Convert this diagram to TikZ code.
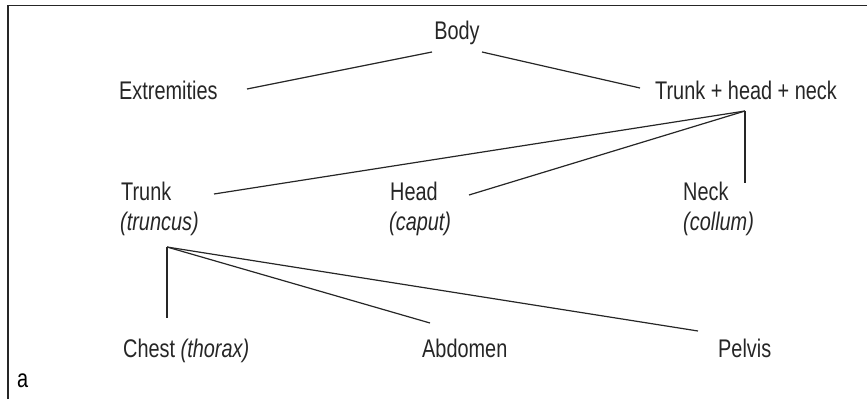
\documentclass[tikz,border=0pt]{standalone}
\usepackage{fontspec}
\setmainfont{Liberation Sans}[FakeStretch=0.78]
\begin{document}
\begin{tikzpicture}[x=1pt,y=-1pt,
  lbl/.style={anchor=base west,inner sep=0pt,text=black!85,font=\fontsize{25.5}{30}\selectfont},
  conn/.style={line width=1.2pt,draw=black!85}]
\useasboundingbox (0,0) rectangle (867,399);
\draw[line width=1.4pt,draw=black!85] (8,399) -- (8,5.5) -- (867,5.5);
% nodes
\node[lbl,anchor=base] (body) at (457,39) {Body};
\node[lbl] (extr) at (119,99) {Extremities};
\node[lbl] (thn) at (655,99) {Trunk + head + neck};
\node[lbl] (trunk) at (121,200) {Trunk};
\node[lbl] (trunkL) at (120,230) {\itshape (truncus)};
\node[lbl] (head) at (390,200) {Head};
\node[lbl] (headL) at (389,230) {\itshape (caput)};
\node[lbl] (neck) at (683,200) {Neck};
\node[lbl] (neckL) at (683,230) {\itshape (collum)};
\node[lbl] (chest) at (123,357) {Chest \textit{(thorax)}};
\node[lbl] (abd) at (422,357) {Abdomen};
\node[lbl] (pelv) at (718,357) {Pelvis};
\node[lbl,text=black] (a) at (17,387) {a};
% connector points
\coordinate (bodyL) at (432,52);
\coordinate (bodyR) at (482,52);
\coordinate (extrIn) at (247,89);
\coordinate (thnIn) at (640,88);
\coordinate (thnF) at (745,111);
\coordinate (trunkIn) at (214,194);
\coordinate (headIn) at (469,195);
\coordinate (neckIn) at (745,183);
\coordinate (trunkF) at (167,247);
\coordinate (chestIn) at (167,318);
\coordinate (abdIn) at (430,323);
\coordinate (pelvIn) at (698,331);
% connectors
\draw[conn] (bodyL) -- (extrIn);
\draw[conn] (bodyR) -- (thnIn);
\draw[conn] (thnF) -- (trunkIn);
\draw[conn] (thnF) -- (headIn);
\draw[conn] (thnF) -- (neckIn);
\draw[conn] (trunkF) -- (chestIn);
\draw[conn] (trunkF) -- (abdIn);
\draw[conn] (trunkF) -- (pelvIn);
\end{tikzpicture}
\end{document}
